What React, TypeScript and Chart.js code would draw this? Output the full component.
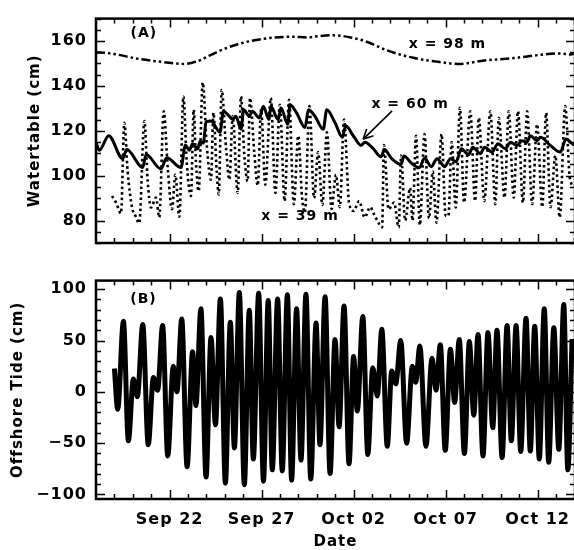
import React, { useEffect, useRef } from "react";
import { Chart, registerables } from "chart.js";

Chart.register(...registerables);

const FONT = '"DejaVu Sans", "Liberation Sans", Arial, sans-serif';

// x axis: days after Sep 18, 00:00
const X_MAX = 26.03;
const dateTickDays = [4, 9, 14, 19, 24];
const dateTickLabels = ["Sep 22", "Sep 27", "Oct 02", "Oct 07", "Oct 12"];

const waterTicks = [80, 100, 120, 140, 160];
const tideTicks = [-100, -50, 0, 50, 100];

// x = 98 m
const well98Days = [0, 0.76, 2.35, 3.7, 4.8, 5.5, 6.7, 7.7, 9.1, 10.7, 11.5, 11.9, 12.9, 13.9, 14.7, 15.9, 17.3, 18.7, 19.7, 21.1, 22.7, 24.2, 25.2, 25.8, 26.0];
const well98Level = [155, 154.5, 152, 150.6, 149.8, 151, 155.6, 158.6, 161, 161.9, 161.6, 162, 162.6, 161.5, 159.7, 155.6, 152.4, 150.6, 149.8, 151.3, 152.4, 153.9, 154.5, 154, 154.5];

// x = 60 m
const well60Days = [0, 0.18, 0.69, 1.45, 1.67, 2.54, 2.72, 3.53, 3.84, 4.62, 4.86, 5.07, 5.25, 5.53, 5.65, 5.83, 5.98, 6.25, 6.74, 6.92, 7.21, 7.43, 7.6, 7.88, 8.03, 8.33, 8.5, 8.88, 9.09, 9.4, 9.5, 9.9, 10.05, 10.42, 10.54, 10.9, 11.36, 11.54, 11.9, 12.35, 12.54, 12.99, 13.39, 13.57, 13.98, 14.4, 14.62, 15.07, 15.49, 15.67, 16.07, 16.58, 16.74, 17.16, 17.57, 17.86, 18.22, 18.53, 18.95, 19.26, 19.57, 19.85, 20.25, 20.47, 20.89, 21.12, 21.52, 21.85, 22.24, 22.52, 22.88, 23.15, 23.41, 23.6, 23.97, 24.15, 24.69, 25.23, 25.54, 25.78, 26.0];
const well60Level = [114.9, 111.3, 117.8, 107.6, 111.7, 103.6, 109.4, 103, 108, 103.6, 113.7, 111.3, 114.2, 112, 115.2, 114.5, 124, 124.4, 119.3, 128.7, 126.8, 125, 126.5, 120.7, 129.4, 126.5, 128.7, 125.8, 130.9, 125, 130.9, 125, 130.2, 122.9, 131.6, 128, 121.5, 129.4, 126.5, 120.7, 129.4, 123.6, 117.1, 122.2, 117.8, 113.5, 114.9, 112, 108.4, 111.7, 107.6, 105, 108.8, 105.4, 103.6, 107.9, 104, 107.6, 104, 107.6, 106.2, 112, 109.4, 112.7, 109.8, 112.7, 110.5, 114.2, 112, 114.9, 113.5, 115.6, 114.9, 117.8, 115.6, 117.1, 113.5, 110.5, 116.4, 114.9, 113.5];

// x = 39 m
const well39Days = [0.87, 1.09, 1.36, 1.54, 1.72, 1.96, 2.14, 2.35, 2.63, 2.81, 2.99, 3.26, 3.44, 3.68, 3.9, 4.13, 4.31, 4.53, 4.75, 4.93, 5.16, 5.31, 5.43, 5.58, 5.8, 6.02, 6.25, 6.38, 6.56, 6.67, 6.83, 7.07, 7.25, 7.43, 7.7, 7.88, 8.06, 8.24, 8.37, 8.6, 8.79, 8.97, 9.2, 9.5, 9.75, 9.99, 10.25, 10.49, 10.75, 10.99, 11.2, 11.35, 11.6, 11.85, 12.07, 12.3, 12.55, 12.8, 13.04, 13.25, 13.48, 13.75, 14.0, 14.3, 14.6, 14.9, 15.1, 15.35, 15.55, 15.65, 15.9, 16.2, 16.45, 16.58, 16.8, 17.07, 17.2, 17.39, 17.6, 17.85, 18.1, 18.3, 18.5, 18.78, 19.0, 19.15, 19.33, 19.55, 19.78, 20.0, 20.34, 20.6, 20.8, 21.1, 21.43, 21.7, 21.89, 22.2, 22.43, 22.7, 22.93, 23.2, 23.43, 23.7, 23.97, 24.25, 24.46, 24.7, 24.96, 25.2, 25.5, 25.75, 26.0];
const well39Level = [90.9, 88, 83.2, 123.6, 101.8, 85.8, 82.2, 78.8, 124.4, 97.5, 85.8, 90.2, 81.4, 128.7, 103.3, 85.1, 100.4, 81.7, 135.3, 106.2, 90.9, 129.4, 106.2, 93.1, 141.5, 113.5, 98.2, 128, 101.8, 91.6, 138.2, 112, 98.2, 126.5, 92.3, 135.3, 109.1, 97.5, 134.6, 110.5, 95.6, 129.5, 96, 134.6, 92.3, 131.6, 88.7, 133.8, 87.3, 117.8, 90.2, 83.6, 131, 90, 110.5, 87, 119.3, 85.2, 100.4, 86, 125, 88, 84.3, 88.7, 81.4, 86, 83, 79, 77, 113.6, 85, 88, 77, 109, 80, 94.5, 80, 117.8, 78, 118.5, 81, 101.8, 79, 118.5, 82.2, 82, 115, 85.8, 130.2, 88, 128.7, 88.7, 125.8, 88.7, 128.7, 87.3, 125.8, 90.2, 128.7, 90.2, 128.7, 88, 128.7, 87.3, 122.9, 86, 128, 86, 109, 81.4, 131, 98.9, 95];

// Offshore tide
const tideDays = [1.0, 1.18, 1.49, 1.76, 2.03, 2.25, 2.54, 2.84, 3.12, 3.35, 3.62, 3.9, 4.2, 4.4, 4.66, 4.95, 5.25, 5.43, 5.7, 5.98, 6.25, 6.49, 6.76, 7.03, 7.3, 7.52, 7.79, 8.06, 8.33, 8.55, 8.84, 9.1, 9.36, 9.58, 9.87, 10.12, 10.4, 10.63, 10.9, 11.14, 11.41, 11.67, 11.96, 12.17, 12.45, 12.72, 12.99, 13.21, 13.48, 13.75, 14.0, 14.2, 14.5, 14.77, 15.04, 15.29, 15.53, 15.83, 16.07, 16.29, 16.56, 16.88, 17.19, 17.37, 17.6, 17.93, 18.26, 18.48, 18.71, 18.98, 19.26, 19.49, 19.74, 20.02, 20.29, 20.53, 20.76, 21.03, 21.3, 21.56, 21.79, 22.07, 22.34, 22.57, 22.83, 23.08, 23.37, 23.6, 23.84, 24.09, 24.36, 24.6, 24.88, 25.15, 25.42, 25.64, 25.87];
const tideLevel = [22.8, -17, 68.7, -47.7, 12.5, -4.7, 65.6, -51.5, 14, 1.6, 64.6, -62.4, 25, 0, 71, -73, 39, -13.4, 81, -83, 53, -32, 90.5, -89, 67.8, -54.6, 96.8, -90.5, 79.6, -65.5, 96, -87, 89, -76, 90.5, -77, 94.6, -86, 81, -66.5, 95, -85, 67, -51.5, 92.7, -79.6, 51, -34, 83.7, -70, 34.4, -18.7, 73.4, -61, 23.4, -4, 61, -53, 20.3, 7.8, 50, -50, 25, 9.4, 44.6, -53, 32.8, 1.6, 46, -57, 41.6, -10.3, 51, -60, 49, -22.8, 56, -62.4, 57.8, -35, 60, -64, 64.6, -47.7, 64.6, -58, 71.8, -57.7, 64, -65.5, 81, -68.6, 62.4, -56, 85, -76, 51.5];

const pts = (xs: number[], ys: number[]) => xs.map((x, i) => ({ x, y: ys[i] }));

type Note = { text: string; x: number; y: number };

function framePlugin(yMajorStep: number, yMinorStep: number, notes: Note[], arrow?: number[]) {
  return {
    id: "frameTicks",
    beforeDraw(chart: any) {
      (chart.ctx as any).letterSpacing = "1px";
    },
    afterDraw(chart: any) {
      const { ctx, chartArea: a, scales } = chart;
      const xs = scales.x;
      const ys = scales.y;
      ctx.save();
      ctx.strokeStyle = "#000";
      ctx.lineWidth = 1.5;
      ctx.beginPath();
      for (let d = 1; d < xs.max; d++) {
        const px = Math.round(xs.getPixelForValue(d)) + 0.5;
        const len = dateTickDays.includes(d) ? 9 : 5;
        ctx.moveTo(px, a.bottom);
        ctx.lineTo(px, a.bottom - len);
        ctx.moveTo(px, a.top);
        ctx.lineTo(px, a.top + len);
      }
      const start = Math.ceil(ys.min / yMinorStep);
      const end = Math.floor(ys.max / yMinorStep);
      for (let i = start; i <= end; i++) {
        const v = i * yMinorStep;
        const py = Math.round(ys.getPixelForValue(v)) + 0.5;
        const len = Math.abs(v % yMajorStep) < 1e-6 ? 9 : 5;
        ctx.moveTo(a.left, py);
        ctx.lineTo(a.left + len, py);
        ctx.moveTo(a.right, py);
        ctx.lineTo(a.right - len, py);
      }
      ctx.stroke();
      ctx.lineWidth = 2.5;
      ctx.strokeRect(a.left, a.top, a.right - a.left, a.bottom - a.top);

      ctx.fillStyle = "#000";
      ctx.font = `bold 14px ${FONT}`;
      ctx.textAlign = "center";
      ctx.textBaseline = "middle";
      (ctx as any).letterSpacing = "1px";
      for (const n of notes) {
        ctx.fillText(n.text, xs.getPixelForValue(n.x), ys.getPixelForValue(n.y));
      }
      if (arrow) {
        const x0 = xs.getPixelForValue(arrow[0]);
        const y0 = ys.getPixelForValue(arrow[1]);
        const x1 = xs.getPixelForValue(arrow[2]);
        const y1 = ys.getPixelForValue(arrow[3]);
        const ang = Math.atan2(y1 - y0, x1 - x0);
        ctx.lineWidth = 1.6;
        ctx.beginPath();
        ctx.moveTo(x0, y0);
        ctx.lineTo(x1, y1);
        for (const s of [-1, 1]) {
          ctx.moveTo(x1, y1);
          ctx.lineTo(x1 - 11 * Math.cos(ang + s * 0.45), y1 - 11 * Math.sin(ang + s * 0.45));
        }
        ctx.stroke();
      }
      ctx.restore();
    },
  };
}

const tickFont = { family: FONT, size: 16, weight: "bold" as const };
const titleFont = { family: FONT, size: 15, weight: "bold" as const, lineHeight: 1 };

function configA(): any {
  return {
    type: "line",
    data: {
      datasets: [
        {
          data: pts(well98Days, well98Level),
          borderColor: "#000",
          borderWidth: 2.5,
          borderDash: [9, 3, 2.5, 3, 2.5, 3],
          pointRadius: 0,
          cubicInterpolationMode: "monotone",
        },
        {
          data: pts(well39Days, well39Level),
          borderColor: "#000",
          borderWidth: 2.6,
          borderDash: [2.5, 3],
          pointRadius: 0,
          cubicInterpolationMode: "monotone",
        },
        {
          data: pts(well60Days, well60Level),
          borderColor: "#000",
          borderWidth: 3,
          pointRadius: 0,
          cubicInterpolationMode: "monotone",
        },
      ],
    },
    options: {
      animation: false,
      responsive: false,
      layout: { padding: { left: 0, top: 14, right: 5, bottom: 19 } },
      plugins: { legend: { display: false }, tooltip: { enabled: false } },
      scales: {
        x: { type: "linear", min: 0, max: X_MAX, display: false },
        y: {
          type: "linear",
          min: 70,
          max: 170,
          afterBuildTicks: (s: any) => {
            s.ticks = waterTicks.map((v) => ({ value: v }));
          },
          afterFit: (s: any) => {
            s.width = 96;
          },
          grid: { display: false, drawTicks: false },
          border: { display: false },
          ticks: { padding: 9, font: tickFont, color: "#000" },
          title: {
            display: true,
            text: "Watertable (cm)",
            font: titleFont,
            color: "#000",
            padding: { top: 28, bottom: 0 },
          },
        },
      },
    },
    plugins: [
      framePlugin(20, 5, [
        { text: "(A)", x: 2.6, y: 163.4 },
        { text: "x = 98 m", x: 19.1, y: 158.6 },
        { text: "x = 60 m", x: 17.07, y: 131.9 },
        { text: "x = 39 m", x: 11.09, y: 81.7 },
      ], [16.09, 128.9, 14.51, 116.2]),
    ],
  };
}

function configB(): any {
  return {
    type: "line",
    data: {
      datasets: [
        {
          data: pts(tideDays, tideLevel),
          borderColor: "#000",
          borderWidth: 5,
          pointRadius: 0,
          cubicInterpolationMode: "monotone",
        },
      ],
    },
    options: {
      animation: false,
      responsive: false,
      layout: { padding: { left: 0, top: 10, right: 5, bottom: 0 } },
      plugins: { legend: { display: false }, tooltip: { enabled: false } },
      scales: {
        x: {
          type: "linear",
          min: 0,
          max: X_MAX,
          afterBuildTicks: (s: any) => {
            s.ticks = dateTickDays.map((v) => ({ value: v }));
          },
          afterFit: (s: any) => {
            s.height = 51;
          },
          grid: { display: false, drawTicks: false },
          border: { display: false },
          ticks: {
            autoSkip: false,
            maxRotation: 0,
            padding: 11,
            font: tickFont,
            color: "#000",
            callback: (_v: any, i: number) => dateTickLabels[i],
          },
          title: {
            display: true,
            text: "Date",
            font: titleFont,
            color: "#000",
            padding: { top: 0, bottom: 0 },
          },
        },
        y: {
          type: "linear",
          min: -104.4,
          max: 108.4,
          afterBuildTicks: (s: any) => {
            s.ticks = tideTicks.map((v) => ({ value: v }));
          },
          afterFit: (s: any) => {
            s.width = 96;
          },
          grid: { display: false, drawTicks: false },
          border: { display: false },
          ticks: {
            padding: 9,
            font: tickFont,
            color: "#000",
            callback: (v: any) => (v < 0 ? "\u2212" + Math.abs(v) : String(v)),
          },
          title: {
            display: true,
            text: "Offshore Tide (cm)",
            font: titleFont,
            color: "#000",
            padding: { top: 10.5, bottom: 0 },
          },
        },
      },
    },
    plugins: [framePlugin(50, 10, [{ text: "(B)", x: 2.58, y: 90.5 }])],
  };
}

export default function App() {
  const refA = useRef<HTMLCanvasElement>(null);
  const refB = useRef<HTMLCanvasElement>(null);
  useEffect(() => {
    const a = new Chart(refA.current!, configA());
    const b = new Chart(refB.current!, configB());
    return () => {
      a.destroy();
      b.destroy();
    };
  }, []);
  return (
    <div
      style={{
        position: "absolute",
        left: 0,
        top: 0,
        width: 574,
        height: 550,
        overflow: "hidden",
        background: "#fff",
      }}
    >
      <canvas
        ref={refA}
        width={580}
        height={262}
        style={{ position: "absolute", left: 0, top: 0, width: 580, height: 262 }}
      />
      <canvas
        ref={refB}
        width={580}
        height={288}
        style={{ position: "absolute", left: 0, top: 262, width: 580, height: 288 }}
      />
    </div>
  );
}
